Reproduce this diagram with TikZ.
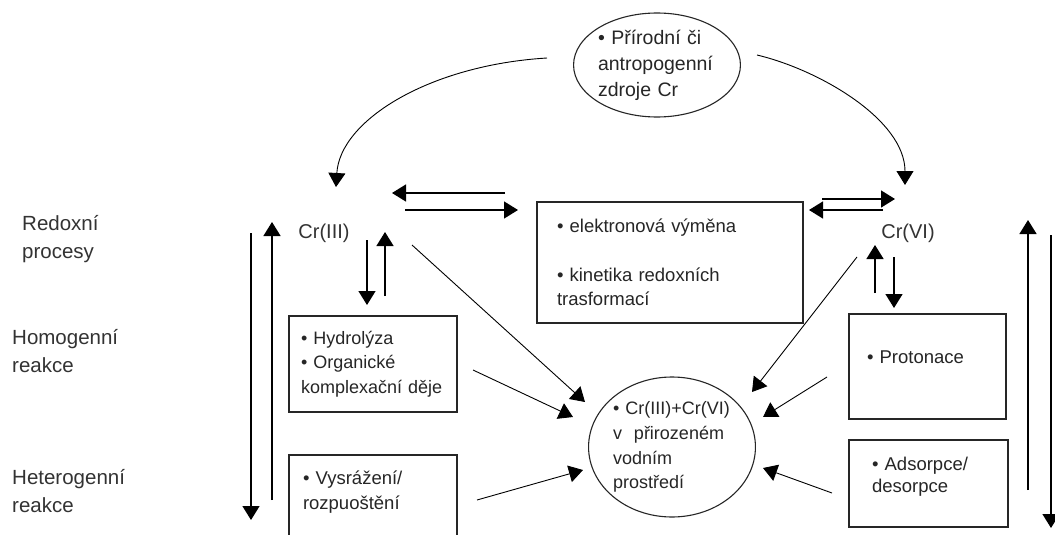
\documentclass[tikz,border=0pt]{standalone}
\usepackage{fontspec}
\setmainfont{Liberation Sans}
\usetikzlibrary{arrows.meta,shapes.geometric}

\begin{document}
\begin{tikzpicture}[x=1pt,y=-1pt,>={Triangle[length=14pt,width=17pt]}]
        \tikzstyle{box}=[rectangle,draw=black!85,line width=1.3pt,align=left,inner ysep=0pt,text=black!85,font=\fontsize{18.5}{24.5}\selectfont]
        \tikzstyle{cloud}=[ellipse,draw=black!85,line width=1.1pt,inner sep=0pt,align=left,text=black!85]
        \tikzstyle{level}=[anchor=west,align=left,inner sep=0pt,text=black!80,font=\fontsize{20.5}{28}\selectfont]
        \tikzstyle{species}=[inner sep=0pt,text=black!80,font=\fontsize{20}{24}\selectfont]
        \tikzstyle{edge}=[draw=black, line width=1.4pt, ->]
        \tikzstyle{link}=[draw=black, line width=0.9pt, ->]

        \clip (0,0) rectangle (1055,535);
        \fill[white] (0,0) rectangle (1055,535);

       \begin{scope}

         % row labels
         \node [level] (redox) at (22,239) {Redoxní\\procesy};
         \node [level] (homo) at (12,351) {Homogenní\\reakce};
         \node [level] (hetero) at (12,491) {Heterogenní\\reakce};

         % sources and species
         \node [cloud, minimum width=165, minimum height=104, text width=118, font=\fontsize{19.5}{26}\selectfont] (src) at (657,65) {• Přírodní či\\antropogenní\\zdroje Cr};
         \node [species] (cr3) at (324,233) {Cr(III)};
         \node [species] (cr6) at (908,233) {Cr(VI)};

         % process boxes
         \node [box, minimum height=121, text width=226, inner xsep=20] (exch) at (670,262.5) {• elektronová výměna\\[24.5pt]• kinetika redoxních\\trasformací};
         \node [box, minimum height=96, text width=144, inner xsep=12, font=\fontsize{18}{24.5}\selectfont] (hydro) at (373,364) {• Hydrolýza\\• Organické\\komplexační děje};
         \node [box, minimum height=90, text width=140, inner xsep=14, text depth=44pt] (precip) at (373,500) {• Vysrážení/\\rozpuoštění};
         \node [box, minimum height=105, text width=121, inner xsep=18, text depth=19pt] (proton) at (927.5,366.5) {• Protonace};
         \node [box, minimum height=87, text width=113, inner xsep=23, text depth=40pt, font=\fontsize{18.5}{22.5}\selectfont] (adsorb) at (928.5,483.5) {• Adsorpce/\\desorpce};

         % natural water
         \node [cloud, minimum width=166, minimum height=140, text width=118, font=\fontsize{18}{24.7}\selectfont] (env) at (672,447) {• Cr(III)+Cr(VI)\\v \ přirozeném\\vodním\\prostředí};

         % arrow ends
         \coordinate (srcL) at (547,58);   \coordinate (cr3in) at (336,187);
         \coordinate (srcR) at (757,55);   \coordinate (cr6in) at (905,185);
         \coordinate (ox3a) at (505,193);  \coordinate (ox3b) at (392,193);
         \coordinate (ox3c) at (405,210);  \coordinate (ox3d) at (518,210);
         \coordinate (ox6a) at (822,199);  \coordinate (ox6b) at (895,199);
         \coordinate (ox6c) at (883,210);  \coordinate (ox6d) at (809,210);
         \coordinate (hy3a) at (367,240);  \coordinate (hy3b) at (367,305);
         \coordinate (hy3c) at (385,296);  \coordinate (hy3d) at (385,232);
         \coordinate (hy6a) at (875,293);  \coordinate (hy6b) at (875,245);
         \coordinate (hy6c) at (894,257);  \coordinate (hy6d) at (894,308);
         \coordinate (lup1) at (272,500);  \coordinate (lup2) at (272,222);
         \coordinate (ldn1) at (251,233);  \coordinate (ldn2) at (251,520);
         \coordinate (rup1) at (1028,490); \coordinate (rup2) at (1028,220);
         \coordinate (rdn1) at (1051,235); \coordinate (rdn2) at (1051,528);
         \coordinate (in3a) at (412,245);  \coordinate (in3b) at (585,402);
         \coordinate (inha) at (473,370);  \coordinate (inhb) at (573,417);
         \coordinate (inpa) at (477,500);  \coordinate (inpb) at (583,470);
         \coordinate (in6a) at (857,257);  \coordinate (in6b) at (752,392);
         \coordinate (inra) at (827,377);  \coordinate (inrb) at (763,417);
         \coordinate (inaa) at (832,493);  \coordinate (inab) at (763,468);

         % sources
         \draw[link] (srcL) .. controls (430,65) and (340,120) .. (cr3in);
         \draw[link] (srcR) .. controls (820,70) and (905,120) .. (cr6in);

         % redox exchange
         \draw[edge] (ox3a) -- (ox3b);
         \draw[edge] (ox3c) -- (ox3d);
         \draw[edge] (ox6a) -- (ox6b);
         \draw[edge] (ox6c) -- (ox6d);

         % homogeneous steps
         \draw[edge] (hy3a) -- (hy3b);
         \draw[edge] (hy3c) -- (hy3d);
         \draw[edge] (hy6a) -- (hy6b);
         \draw[edge] (hy6c) -- (hy6d);

         % side arrows
         \draw[edge] (lup1) -- (lup2);
         \draw[edge] (ldn1) -- (ldn2);
         \draw[edge] (rup1) -- (rup2);
         \draw[edge] (rdn1) -- (rdn2);

         % into natural water
         \draw[link] (in3a) -- (in3b);
         \draw[link] (inha) -- (inhb);
         \draw[link] (inpa) -- (inpb);
         \draw[link] (in6a) -- (in6b);
         \draw[link] (inra) -- (inrb);
         \draw[link] (inaa) -- (inab);

       \end{scope}
\end{tikzpicture}
\end{document}
